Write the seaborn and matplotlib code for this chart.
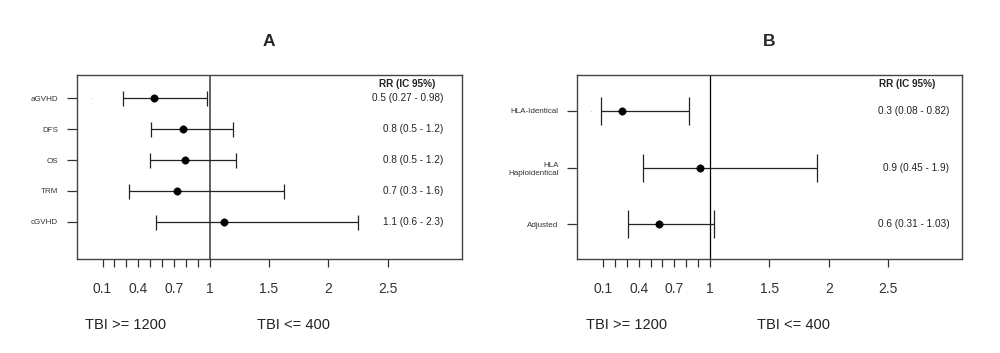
import numpy as np
import pandas as pd
import matplotlib.pyplot as plt
import seaborn as sns

sns.set_theme(style="white")
plt.rcParams['font.family'] = ['Liberation Sans', 'DejaVu Sans']

# panel A
labels_a = ["aGVHD", "DFS", "OS", "TRM", "cGVHD"]
rr_a = [0.53, 0.78, 0.79, 0.73, 1.12]
lo_a = [0.27, 0.51, 0.50, 0.32, 0.55]
hi_a = [0.98, 1.20, 1.22, 1.63, 2.25]
txt_a = ["0.5 (0.27 - 0.98)", "0.8 (0.5 - 1.2)", "0.8 (0.5 - 1.2)",
         "0.7 (0.3 - 1.6)", "1.1 (0.6 - 2.3)"]
dot_a = [0.0]

# panel B
labels_b = ["HLA-Identical", "HLA\nHaploidentical", "Adjusted"]
rr_b = [0.26, 0.92, 0.57]
lo_b = [0.08, 0.44, 0.31]
hi_b = [0.82, 1.90, 1.03]
txt_b = ["0.3 (0.08 - 0.82)", "0.9 (0.45 - 1.9)", "0.6 (0.31 - 1.03)"]
dot_b = [0.0]

xticks = [0.1, 0.2, 0.3, 0.4, 0.5, 0.6, 0.7, 0.8, 0.9, 1.0, 1.5, 2.0, 2.5]
xticklabels = ["0.1", "", "", "0.4", "", "", "0.7", "", "", "1", "1.5", "2", "2.5"]

fig = plt.figure(figsize=(10, 3.53), dpi=100)
ax_a = fig.add_axes([0.0767, 0.2654, 0.385, 0.5221])
ax_b = fig.add_axes([0.5773, 0.2654, 0.3844, 0.5221])


def forest(ax, title, labels, rr, lo, hi, txt, dot, ylim, cap, txt_x, vcol, vlw):
    n = len(labels)
    df = pd.DataFrame({"row": np.arange(n, 0, -1), "rr": rr, "lo": lo, "hi": hi})
    ax.axvline(1, color=vcol, lw=vlw, zorder=1)
    ax.errorbar(df["rr"], df["row"],
                xerr=[df["rr"] - df["lo"], df["hi"] - df["rr"]],
                fmt="none", ecolor="#222222", elinewidth=0.9,
                capsize=cap, capthick=0.9, zorder=2)
    sns.scatterplot(data=df, x="rr", y="row", ax=ax, color="black",
                    s=28, edgecolor="black", zorder=3, legend=False)
    ax.scatter(dot, [n], s=0.15, color="#888888", linewidths=0)
    ax.set_xlim(-0.117, 3.12)
    ax.set_ylim(*ylim)
    ax.set_xticks(xticks)
    ax.set_xticklabels(xticklabels, fontsize=10, color="#333333")
    ax.set_yticks(df["row"])
    ax.set_yticklabels(labels, fontsize=5.8, color="#333333", ha="right",
                       multialignment="right")
    ax.tick_params(axis="x", direction="out", length=5.5, width=0.9,
                   color="#333333", pad=11, bottom=True)
    ax.tick_params(axis="y", direction="out", length=7, width=0.9,
                   color="#333333", pad=6.5, left=True)
    ax.set_xlabel("")
    ax.set_ylabel("")
    for sp in ax.spines.values():
        sp.set_color("#444444")
        sp.set_linewidth(1.0)
    ax.set_title(title, fontsize=12.5, fontweight="bold", pad=21)
    top = ylim[1]
    ax.text(2.66, top - 0.29 * (top - ylim[0]) / 6, "RR (IC 95%)", ha="center",
            va="center", fontsize=7.2, fontweight="bold", color="#222222")
    for r, t in zip(df["row"], txt):
        ax.text(txt_x, r, t, ha="right", va="center", fontsize=7.2, color="#222222")
    trans = ax.get_xaxis_transform()
    ax.text(-0.045, -0.356, "TBI >= 1200", transform=trans, ha="left",
            va="center", fontsize=10.5, color="#222222")
    ax.text(1.40, -0.356, "TBI <= 400", transform=trans, ha="left",
            va="center", fontsize=10.5, color="#222222")


forest(ax_a, "A", labels_a, rr_a, lo_a, hi_a, txt_a, dot_a, (-0.22, 5.76),
       5.4, 2.967, "#555555", 1.3)
forest(ax_b, "B", labels_b, rr_b, lo_b, hi_b, txt_b, dot_b, (0.38, 3.635),
       10, 3.015, "black", 0.9)

plt.savefig("out.png", dpi=100)
plt.close()
